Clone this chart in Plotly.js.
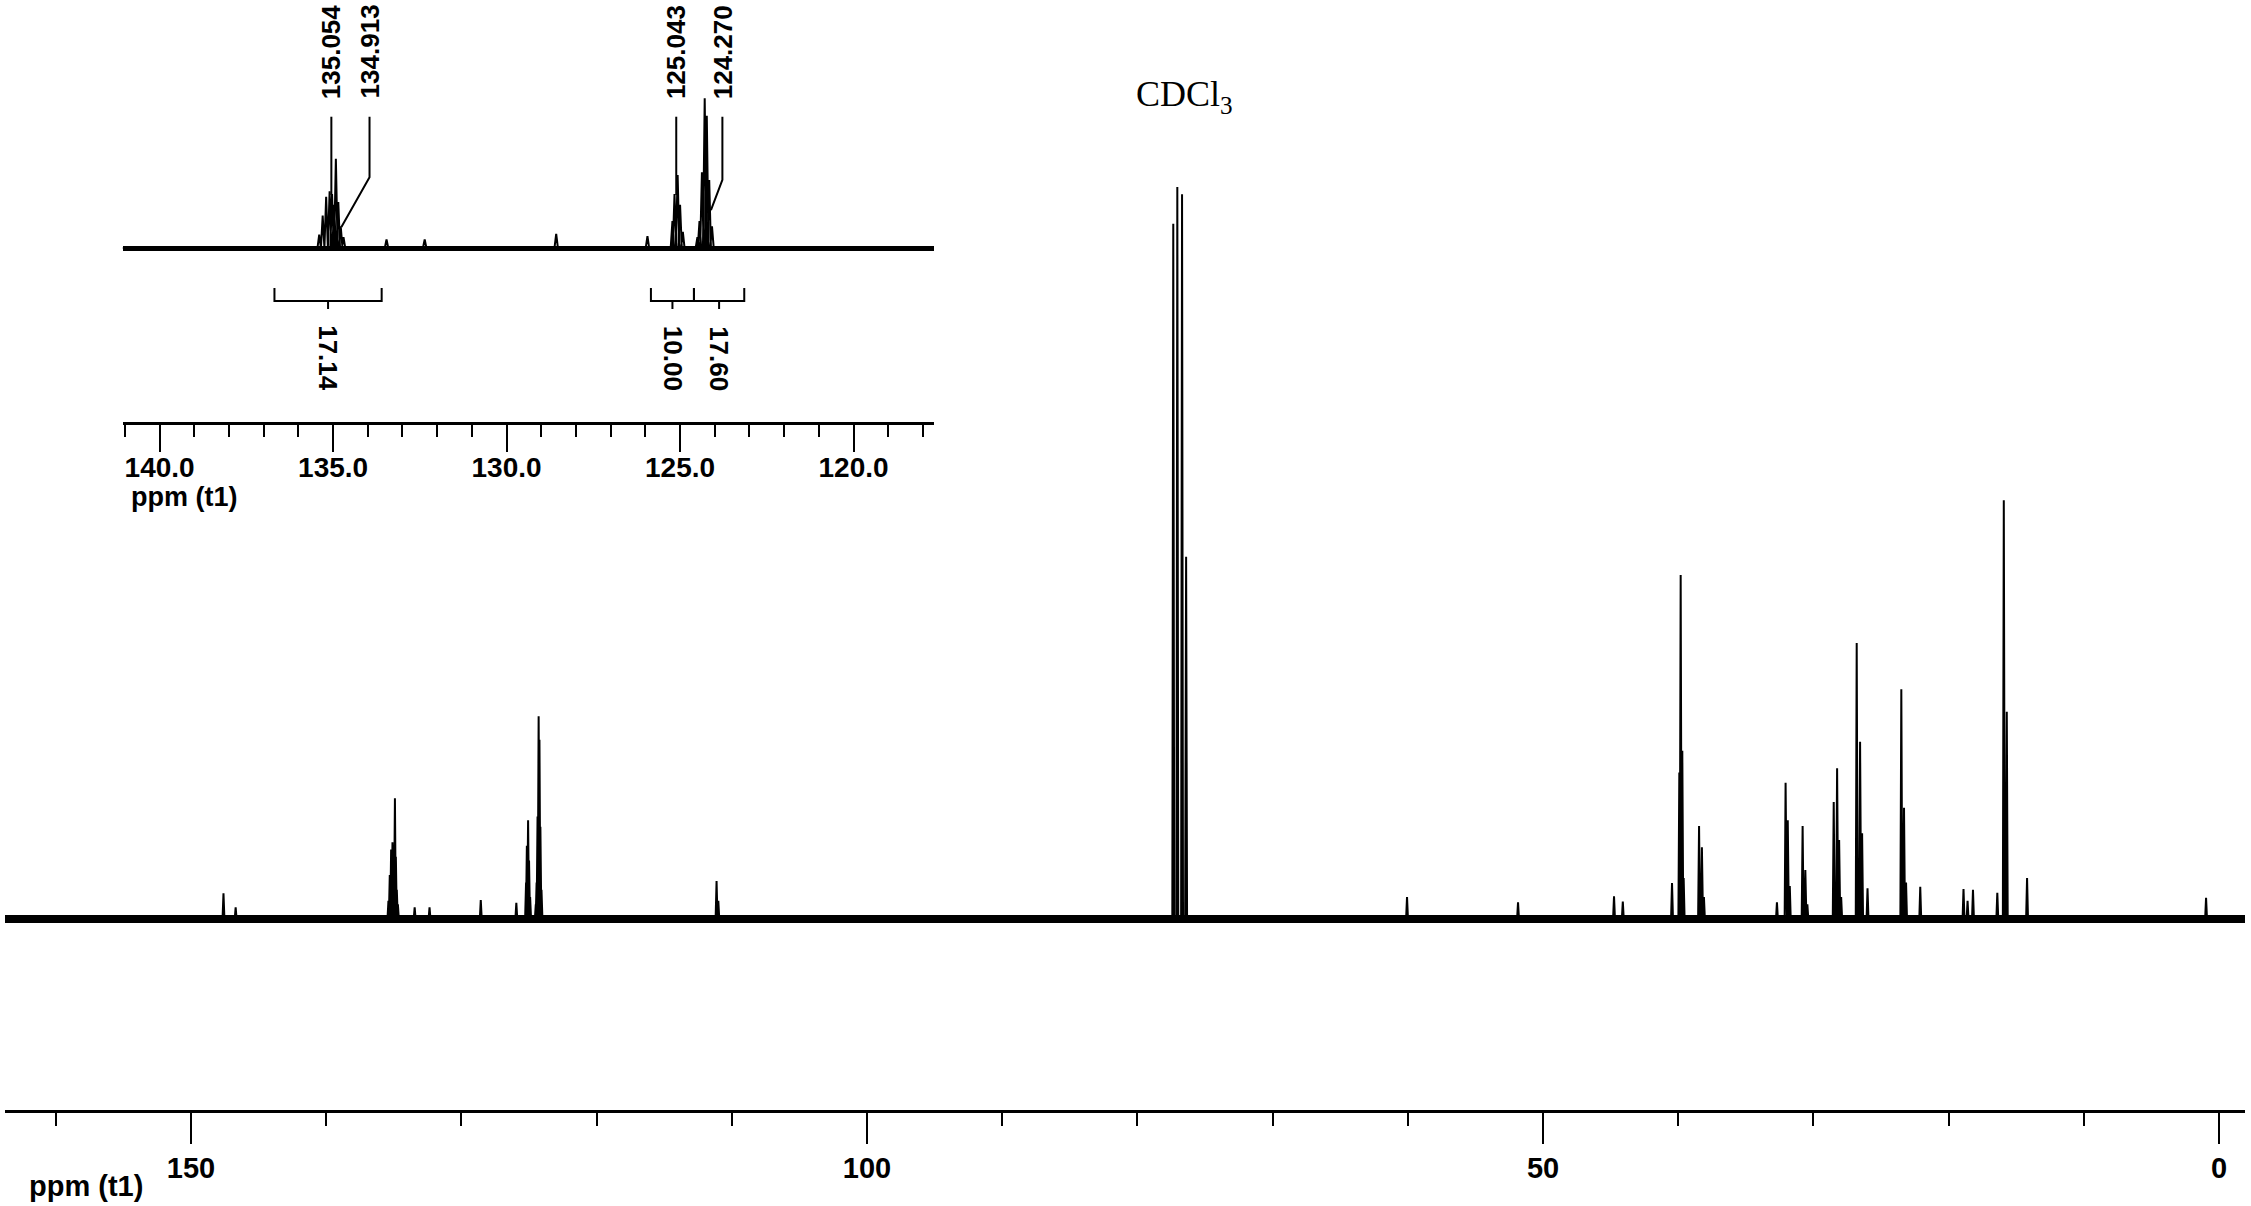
<!DOCTYPE html>
<html>
<head>
<meta charset="utf-8">
<script src="https://cdn.plot.ly/plotly-3.0.1.min.js"></script>
<style>
  html, body { margin: 0; padding: 0; background: #fff; }
  #graph { width: 2251px; height: 1206px; }
</style>
</head>
<body>
<div id="graph"></div>
<script>
// peak positions (ppm) and heights (CDCl3 = 100)
const peakPpm = [147.6, 146.7,
  135.40, 135.30, 135.20, 135.10, 135.03, 134.97, 134.92, 134.85, 134.78, 134.70,
  133.46, 132.36, 128.57, 125.94,
  125.22, 125.16, 125.07, 125.00, 124.92,
  124.50, 124.44, 124.37, 124.29, 124.23, 124.16, 124.08,
  111.13, 111.0,
  77.35, 77.05, 76.70, 76.40,
  60.06, 51.85, 44.75, 44.1, 40.46,
  39.92, 39.82, 39.70, 39.6, 38.46, 38.25, 38.1,
  32.7, 32.06, 31.9, 31.75, 30.8, 30.6, 30.45,
  28.5, 28.25, 28.1, 27.95, 26.8, 26.55, 26.4, 26.0,
  23.5, 23.3, 23.15, 22.1, 18.9, 18.6, 18.2, 16.4,
  15.92, 15.7, 14.2, 0.96];
const peakInt = [3.5, 1.6,
  2.5, 6, 9.5, 10.5, 10, 8, 16.5, 8.5, 4, 2,
  1.6, 1.6, 2.6, 2.2,
  5, 10, 13.5, 8, 3,
  2, 5, 14, 27.7, 24.5, 12.6, 4,
  5.2, 2.5,
  95, 100, 99, 49.5,
  3, 2.3, 3.1, 2.4, 4.9,
  20, 47, 23, 5.6, 12.7, 9.8, 3,
  2.3, 18.6, 13.5, 4.5, 12.7, 6.7, 2,
  16, 20.6, 10.8, 3, 37.7, 24.2, 11.7, 4.2,
  31.4, 15.2, 5, 4.4, 4.1, 2.5, 4, 3.6,
  57.2, 28.3, 5.6, 2.9];

// labelled peaks in the expansion
const labelText = ['135.054', '134.913', '125.043', '124.270'];
const labelPeak = [135.054, 134.913, 125.043, 124.270];

// integrals in the expansion
const intFrom = [136.69, 125.84, 124.60];
const intTo = [133.60, 124.60, 123.15];
const intValue = ['17.14', '10.00', '17.60'];

const mainRange = [163.76, -1.92];
const insetRange = [141.06, 117.69];

// spectrum as thin sticks on a zero baseline
function buildSpectrum(range, half) {
  const order = peakPpm.map((p, i) => i).sort((a, b) => peakPpm[b] - peakPpm[a]);
  const x = [range[0]], y = [0];
  order.forEach(i => {
    x.push(peakPpm[i] + half, peakPpm[i], peakPpm[i] - half);
    y.push(0, peakInt[i], 0);
  });
  x.push(range[1]); y.push(0);
  return {x, y};
}

const mainSpec = buildSpectrum(mainRange, 0.07);
const insetSpec = buildSpectrum(insetRange, 0.05);

const traces = [
  {x: mainSpec.x, y: mainSpec.y, xaxis: 'x', yaxis: 'y', type: 'scatter', mode: 'lines',
   line: {color: '#000', width: 2}, hoverinfo: 'skip', showlegend: false},
  {x: insetSpec.x, y: insetSpec.y, xaxis: 'x2', yaxis: 'y2', type: 'scatter', mode: 'lines',
   line: {color: '#000', width: 2}, hoverinfo: 'skip', showlegend: false}
];

const SANS = 'Liberation Sans, Arial, sans-serif';
const tickFont = {family: SANS, size: 29, color: '#000', weight: 'bold'};
const insetFont = {family: SANS, size: 28, color: '#000', weight: 'bold'};

// label placement in the expansion (ppm of text, leader knee height)
const labelPos = [135.05, 133.95, 125.11, 123.78];
const labelKnee = [9.8, 13.1, 9.8, 12.6];
const labelEnd = [9.8, 3.9, 9.8, 7.0];
const labelBend = [135.05, 134.76, 125.11, 124.11];

const shapes = [];
const annotations = [];

labelText.forEach((t, i) => {
  annotations.push({text: t, x: labelPos[i], y: 36.3, xref: 'x2', yref: 'y2',
    textangle: -90, showarrow: false, xanchor: 'center', yanchor: 'middle',
    font: {family: SANS, size: 26, color: '#000', weight: 'bold'}});
  shapes.push({type: 'path', xref: 'x2', yref: 'y2',
    path: `M ${labelPos[i]},24.3 L ${labelPos[i]},${labelKnee[i]} L ${labelBend[i]},${labelEnd[i]}`,
    line: {color: '#000', width: 2}});
});

intValue.forEach((v, i) => {
  const mid = (intFrom[i] + intTo[i]) / 2;
  shapes.push({type: 'path', xref: 'x2', yref: 'y2',
    path: `M ${intFrom[i]},-7.4 L ${intFrom[i]},-9.8 L ${intTo[i]},-9.8 L ${intTo[i]},-7.4 M ${mid},-9.8 L ${mid},-11.3`,
    line: {color: '#000', width: 2}});
  annotations.push({text: v, x: mid, y: -20.4, xref: 'x2', yref: 'y2',
    textangle: 90, showarrow: false, xanchor: 'center', yanchor: 'middle',
    font: {family: SANS, size: 26, color: '#000', weight: 'bold'}});
});

annotations.push({text: 'CDCl<sub>3</sub>', x: 76.5, y: 112.3, xref: 'x', yref: 'y',
  showarrow: false, xanchor: 'center', yanchor: 'middle',
  font: {family: 'Liberation Serif, Times New Roman, serif', size: 36, color: '#000'}});
annotations.push({text: 'ppm (t1)', x: 157.8, y: -0.0685, xref: 'x', yref: 'paper',
  showarrow: false, xanchor: 'center', yanchor: 'middle', font: tickFont});
annotations.push({text: 'ppm (t1)', x: 139.3, y: 0.552, xref: 'x2', yref: 'paper',
  showarrow: false, xanchor: 'center', yanchor: 'middle',
  font: {family: SANS, size: 27, color: '#000', weight: 'bold'}});

const layout = {
  width: 2251, height: 1206,
  margin: {l: 5, r: 6, t: 0, b: 96},
  paper_bgcolor: '#fff', plot_bgcolor: 'rgba(0,0,0,0)',
  showlegend: false,
  xaxis: {
    range: mainRange, anchor: 'y', showgrid: false, zeroline: false,
    showline: true, linecolor: '#000', linewidth: 3,
    ticks: 'outside', ticklen: 31, tickwidth: 2, tickcolor: '#000',
    tick0: 0, dtick: 50, tickfont: tickFont, ticklabelstandoff: -1,
    minor: {ticks: 'outside', ticklen: 13, tickwidth: 2, tickcolor: '#000', dtick: 10, tick0: 0, showgrid: false}
  },
  yaxis: {
    range: [-26.09, 125.55], domain: [0, 1], anchor: 'x',
    showgrid: false, showticklabels: false, ticks: '', showline: false,
    zeroline: true, zerolinecolor: '#000', zerolinewidth: 8
  },
  xaxis2: {
    range: insetRange, domain: [0.0526, 0.4146], anchor: 'y2', showgrid: false, zeroline: false,
    showline: true, linecolor: '#000', linewidth: 2.5,
    ticks: 'outside', ticklen: 27, tickwidth: 2, tickcolor: '#000',
    tick0: 0, dtick: 5, tickformat: '.1f', tickfont: insetFont, ticklabelstandoff: -8,
    minor: {ticks: 'outside', ticklen: 12, tickwidth: 2, tickcolor: '#000', dtick: 1, tick0: 0, showgrid: false}
  },
  yaxis2: {
    range: [-32.2, 45.9], domain: [0.6198, 1], anchor: 'x2',
    showgrid: false, showticklabels: false, ticks: '', showline: false,
    zeroline: true, zerolinecolor: '#000', zerolinewidth: 5
  },
  shapes: shapes,
  annotations: annotations
};

Plotly.newPlot('graph', traces, layout, {staticPlot: true});
</script>
</body>
</html>
